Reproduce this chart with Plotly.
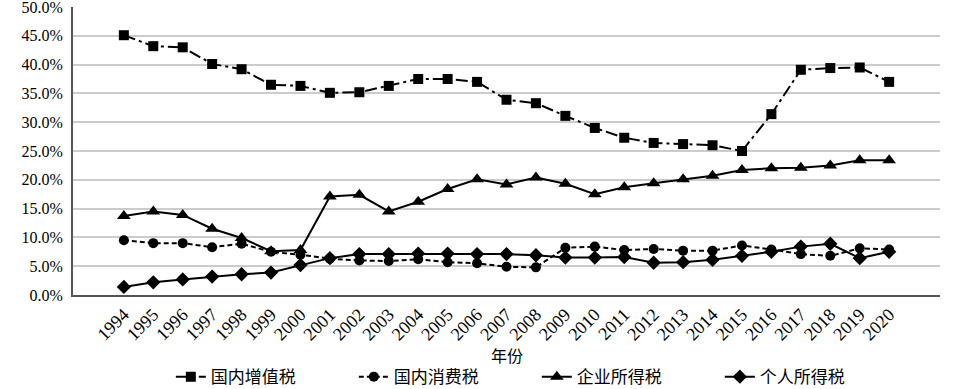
import plotly.graph_objects as go

years = [str(y) for y in range(1994, 2021)]
vat = [45.1, 43.2, 43.0, 40.1, 39.2, 36.5, 36.3, 35.1, 35.2, 36.3, 37.5, 37.5, 37.0,
       33.9, 33.3, 31.1, 29.0, 27.3, 26.4, 26.2, 26.0, 25.0, 31.4, 39.1, 39.4, 39.5, 37.0]
consumption = [9.5, 9.0, 9.0, 8.3, 8.9, 7.5, 7.0, 6.3, 6.0, 5.9, 6.2, 5.7, 5.5,
               4.9, 4.8, 8.2, 8.4, 7.8, 8.0, 7.7, 7.7, 8.6, 7.9, 7.1, 6.8, 8.1, 7.9]
corporate = [13.7, 14.5, 13.9, 11.5, 9.9, 7.6, 7.8, 17.1, 17.4, 14.5, 16.2, 18.4, 20.1,
             19.2, 20.4, 19.3, 17.5, 18.7, 19.4, 20.1, 20.7, 21.7, 22.0, 22.1, 22.5, 23.4, 23.4]
personal = [1.4, 2.2, 2.7, 3.2, 3.6, 3.9, 5.2, 6.4, 7.1, 7.1, 7.2, 7.2, 7.1,
            7.1, 6.9, 6.5, 6.5, 6.6, 5.6, 5.7, 6.1, 6.8, 7.5, 8.4, 8.9, 6.4, 7.5]
names = ["国内增值税", "国内消费税", "企业所得税", "个人所得税"]
x_title = "年份"
y_ticks = [0, 5, 10, 15, 20, 25, 30, 35, 40, 45, 50]
y_tick_labels = ["0.0%", "5.0%", "10.0%", "15.0%", "20.0%", "25.0%", "30.0%",
                 "35.0%", "40.0%", "45.0%", "50.0%"]

fig = go.Figure()
fig.add_trace(go.Scatter(x=years, y=vat, name=names[0], mode="lines+markers",
                         line=dict(color="black", width=2, dash="12px,4px,3px,4px"),
                         marker=dict(symbol="square", size=10, color="black")))
fig.add_trace(go.Scatter(x=years, y=consumption, name=names[1], mode="lines+markers",
                         line=dict(color="black", width=2, dash="5px,3px"),
                         marker=dict(symbol="circle", size=10, color="black")))
fig.add_trace(go.Scatter(x=years, y=corporate, name=names[2], mode="lines+markers",
                         line=dict(color="black", width=2),
                         marker=dict(symbol="triangle-up", size=12, color="black")))
fig.add_trace(go.Scatter(x=years, y=personal, name=names[3], mode="lines+markers",
                         line=dict(color="black", width=2),
                         marker=dict(symbol="diamond", size=11, color="black")))

fig.update_layout(
    width=957, height=389,
    margin=dict(l=73, r=17, t=7, b=94, autoexpand=False),
    plot_bgcolor="white", paper_bgcolor="white",
    font=dict(family="Noto Sans CJK SC", color="black", size=16),
    legend=dict(orientation="h", x=0.535, xanchor="center", y=-0.285, yanchor="middle",
                font=dict(size=17), entrywidth=138, entrywidthmode="pixels",
                tracegroupgap=0),
    showlegend=True,
    annotations=[dict(text=x_title, xref="paper", yref="paper", x=0.5, y=-0.208,
                      xanchor="center", yanchor="middle", showarrow=False,
                      font=dict(size=16))],
)
fig.update_xaxes(type="category", tickangle=-45, showgrid=False,
                 showline=True, linecolor="#555", linewidth=2,
                 tickfont=dict(family="Liberation Serif", size=18),
                 ticks="", automargin=False)
fig.update_yaxes(range=[0, 50], tickvals=y_ticks, ticktext=y_tick_labels,
                 showgrid=True, gridcolor="#cccccc", gridwidth=1.5,
                 showline=True, linecolor="#555", linewidth=2, zeroline=False,
                 tickfont=dict(family="Liberation Serif", size=16), ticks="",
                 ticklabelstandoff=5,
                 ticklabeloverflow="allow", automargin=False)

fig.write_html("out.html", config={"displayModeBar": False},
               post_script="document.body.style.margin='0';")
